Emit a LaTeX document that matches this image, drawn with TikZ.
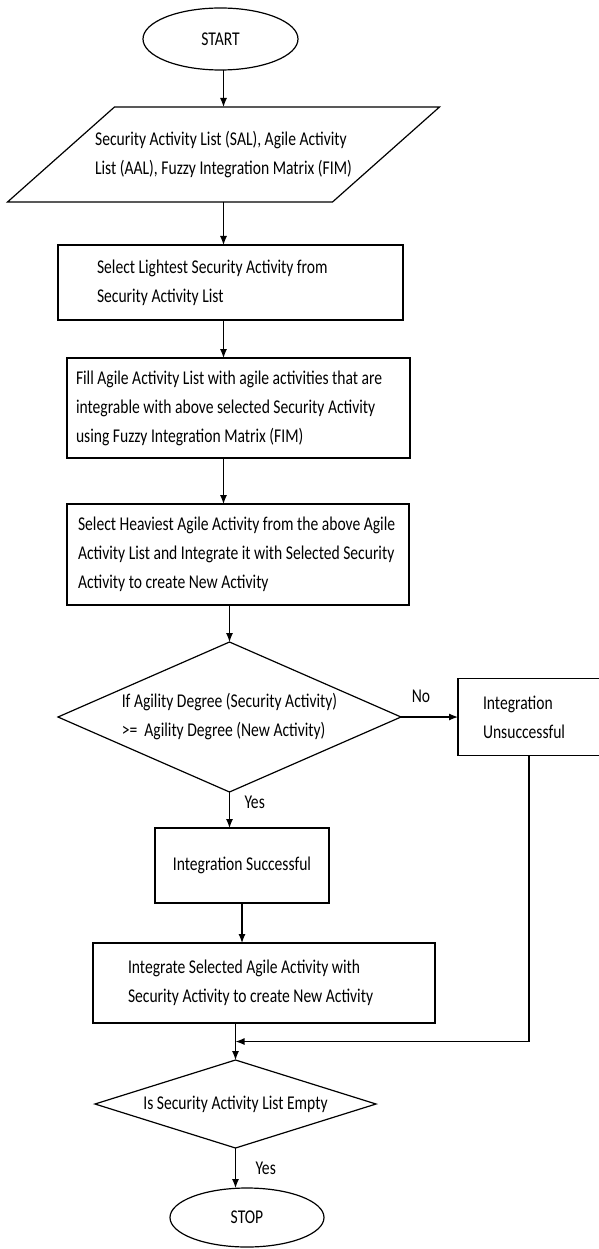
\documentclass[tikz,border=0pt]{standalone}
\usepackage{fontspec}
\setmainfont{Carlito}[FakeStretch=0.8]
\usetikzlibrary{shapes.geometric, positioning, arrows.meta, calc}

\tikzset{
  every node/.style={font=\fontsize{19.5pt}{29pt}\selectfont, outer sep=0pt},
  terminal/.style={draw, ellipse, minimum width=155pt, minimum height=62pt, inner sep=0pt},
  io/.style={rectangle, minimum width=325pt, minimum height=95pt, align=flush left},
  process/.style={draw, rectangle, align=flush left, inner ysep=0pt},
  decision/.style={draw, diamond, align=flush left, inner sep=0pt},
  arrow/.style={-{Latex[length=9pt,width=7pt]}},
  lbl/.style={inner sep=0pt},
}

\begin{document}
\begin{tikzpicture}[line width=1.2pt]

\useasboundingbox (0,0) rectangle (598pt,-1249pt);

% define nodes

\node[terminal] (start) at (220.5pt,-39pt) {START};
\node[io, below=37pt of start, xshift=3pt] (lists) {Security Activity List (SAL), Agile Activity\\List (AAL), Fuzzy Integration Matrix (FIM)};
% slanted input box round the lists
\draw ([xshift=53.5pt]lists.north west) -- ([xshift=53.5pt]lists.north east)
  -- ([xshift=-53.5pt]lists.south east) -- ([xshift=-53.5pt]lists.south west) -- cycle;

\node[process, below=43pt of lists, xshift=7pt, text width=267pt, inner xsep=39pt, minimum height=75pt] (lightest) {Select Lightest Security Activity from\\Security Activity List};
\node[process, below=38pt of lightest, xshift=8pt, text width=325pt, inner xsep=9pt, minimum height=100pt] (fill) {Fill Agile Activity List with agile activities that are\\integrable with above selected Security Activity\\using Fuzzy Integration Matrix (FIM)};
\node[process, below=46pt of fill, xshift=-0.5pt, text width=320pt, inner xsep=11pt, minimum height=101pt] (heaviest) {Select Heaviest Agile Activity from the above Agile\\Activity List and Integrate it with Selected Security\\Activity to create New Activity};

% decisions

\node[decision, below=37pt of heaviest, xshift=-8.5pt, aspect=2.29, minimum width=343pt, minimum height=150pt] (check) {If Agility Degree (Security Activity)\\>= \ Agility Degree (New Activity)};
\node[process, right=57pt of check, text width=92pt, inner xsep=25pt, minimum height=77pt] (fail) {Integration\\Unsuccessful};

\node[process, below=36pt of check, xshift=12.5pt, text width=174pt, inner xsep=0pt, minimum height=75pt, align=flush center] (success) {Integration Successful};
\node[process, below=40pt of success, xshift=22pt, text width=272pt, inner xsep=35pt, minimum height=80pt] (integrate) {Integrate Selected Agile Activity with\\Security Activity to create New Activity};

\node[decision, below=37pt of integrate, xshift=-28.5pt, aspect=3.2, minimum width=281pt, minimum height=88pt] (empty) {Is Security Activity List Empty};
\node[terminal, below=40pt of empty, xshift=11.5pt, minimum width=154pt, minimum height=59pt] (stop) {STOP};

\coordinate (join) at ($(integrate.south -| empty)!0.5!(empty.north)$);

% edges

\draw[arrow] (start.south -| lists) -- (lists.north);
\draw[arrow] (lists.south) -- (lightest.north -| lists);
\draw[arrow] (lightest.south -| lists) -- (fill.north -| lists);
\draw[arrow] (fill.south -| lists) -- (heaviest.north -| lists);
\draw[arrow] (heaviest.south -| check) -- (check.north);

\draw[arrow] (check.east) -- (fail.west) node[lbl, pos=0.35, above=14pt] {No};
\draw[arrow] (check.south) -- (success.north -| check) node[lbl, pos=0.3, right=15pt] {Yes};
\draw[arrow] (success.south) -- (integrate.north -| success);
\draw[arrow] (integrate.south -| empty) -- (empty.north);
\draw[arrow] (fail.south) |- (join);
\draw[arrow] (empty.south) -- (stop.north -| empty) node[lbl, pos=0.5, right=20pt] {Yes};

\end{tikzpicture}
\end{document}
